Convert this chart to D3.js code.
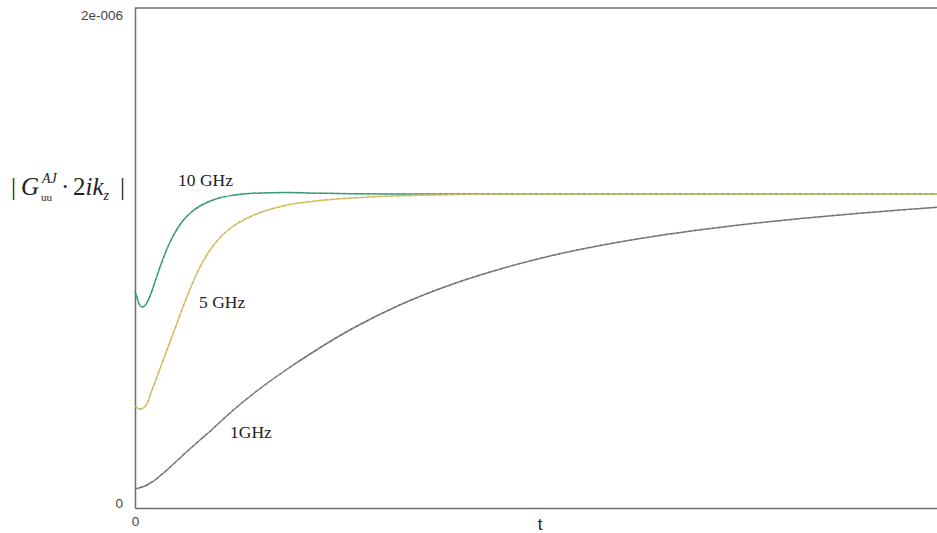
<!DOCTYPE html>
<html>
<head>
<meta charset="utf-8">
<script src="https://cdn.jsdelivr.net/npm/d3@7"></script>
<style>
  html, body { margin: 0; padding: 0; background: #fff; }
  svg { display: block; }
</style>
</head>
<body>
<svg id="visualization" width="937" height="533"></svg>
<script>
// sample times (arbitrary units, axis only labels 0)
const tValues = [0, 0.25, 0.5, 0.9, 1.25, 1.6, 1.9, 2.5, 3.1, 3.7, 4.4, 5.2, 6, 6.9, 8.1, 9.4, 10.6, 12.2, 14.7, 19, 23, 27, 33, 40, 46, 52, 58, 65, 71, 77, 83, 90, 95, 100];

// |G| * 2ikz, in units of 1e-6
const ghz10 = [0.864, 0.844, 0.816, 0.804, 0.810, 0.828, 0.850, 0.905, 0.962, 1.014, 1.066, 1.113, 1.150, 1.180, 1.208, 1.228, 1.241, 1.251, 1.259, 1.262, 1.259, 1.257, 1.256, 1.256, 1.256, 1.256, 1.256, 1.256, 1.256, 1.256, 1.256, 1.256, 1.256, 1.256];
const ghz5 = [0.408, 0.402, 0.396, 0.398, 0.406, 0.424, 0.452, 0.504, 0.556, 0.608, 0.668, 0.736, 0.806, 0.878, 0.964, 1.034, 1.082, 1.126, 1.170, 1.212, 1.230, 1.240, 1.249, 1.254, 1.256, 1.256, 1.256, 1.256, 1.256, 1.256, 1.256, 1.256, 1.256, 1.256];
const ghz1 = [0.076, 0.078, 0.080, 0.084, 0.088, 0.094, 0.100, 0.112, 0.128, 0.144, 0.164, 0.188, 0.212, 0.238, 0.272, 0.308, 0.344, 0.390, 0.456, 0.556, 0.640, 0.716, 0.812, 0.900, 0.960, 1.010, 1.050, 1.088, 1.115, 1.138, 1.158, 1.178, 1.191, 1.203];

const seriesNames = ["10 GHz", "5 GHz", "1GHz"];
const yTicks = [0, 2];
const yTickLabels = ["0", "2e-006"];
const xTicks = [0];
const xTickLabels = ["0"];

const colors = ["#3e9e7e", "#d4c266", "#7c7c7c"];
const dotColors = ["#237456", "#b09a3a", "#444444"];

const svg = d3.select("#visualization");

const margin = { top: 8, right: 0, bottom: 25, left: 135 };
const width = 937 - margin.left - margin.right;
const height = 533 - margin.top - margin.bottom;

const xScale = d3.scaleLinear().domain([0, 100]).range([0, width]);
const yScale = d3.scaleLinear().domain([0, 2]).range([height, 0]);

const chart = svg.append("g")
    .attr("transform", `translate(${margin.left}, ${margin.top})`);

// frame: top, left, bottom
chart.append("line")
    .attr("x1", 0).attr("x2", width)
    .attr("y1", 0).attr("y2", 0)
    .attr("stroke", "#6e6e6e").attr("stroke-width", 1.5);

const yAxis = chart.append("g")
    .call(d3.axisLeft(yScale).tickValues(yTicks).tickSize(0).tickPadding(12)
        .tickFormat((d, i) => yTickLabels[i]));
yAxis.select(".domain").attr("stroke", "#6e6e6e").attr("stroke-width", 1.5);
yAxis.selectAll("text")
    .attr("font-family", "Liberation Sans, Arial, sans-serif")
    .attr("font-size", 13.5).attr("fill", "#444");
yAxis.selectAll(".tick").filter(d => d === 2).select("text").attr("dy", "0.85em");
yAxis.selectAll(".tick").filter(d => d === 0).select("text").attr("dy", "-0.05em");

const xAxis = chart.append("g")
    .attr("transform", `translate(0, ${height})`)
    .call(d3.axisBottom(xScale).tickValues(xTicks).tickSize(0).tickPadding(8)
        .tickFormat((d, i) => xTickLabels[i]));
xAxis.select(".domain").attr("stroke", "#6e6e6e").attr("stroke-width", 1.5);
xAxis.selectAll("text")
    .attr("font-family", "Liberation Sans, Arial, sans-serif")
    .attr("font-size", 13.5).attr("fill", "#444");

// curves
const series = [ghz10, ghz5, ghz1].map((vals, k) => ({
    name: seriesNames[k],
    points: tValues.map((t, i) => ({ t: t, v: vals[i] }))
}));

const line = d3.line()
    .x(d => xScale(d.t))
    .y(d => yScale(d.v))
    .curve(d3.curveMonotoneX);

chart.selectAll(".curve")
    .data(series)
    .join("path")
    .attr("class", "curve")
    .attr("fill", "none")
    .attr("stroke", (d, i) => colors[i])
    .attr("stroke-width", 1.5)
    .attr("d", d => line(d.points));

chart.selectAll(".curve-dots")
    .data(series)
    .join("path")
    .attr("class", "curve-dots")
    .attr("fill", "none")
    .attr("stroke", (d, i) => dotColors[i])
    .attr("stroke-width", 1.5)
    .attr("stroke-dasharray", "1,5")
    .attr("opacity", 0.6)
    .attr("d", d => line(d.points));

// series labels
const labelPos = [[178, 186], [199, 308], [230, 438]];
svg.selectAll(".series-label")
    .data(seriesNames)
    .join("text")
    .attr("class", "series-label")
    .attr("x", (d, i) => labelPos[i][0])
    .attr("y", (d, i) => labelPos[i][1])
    .attr("font-family", "Liberation Serif, Times New Roman, serif")
    .attr("font-size", 17.5)
    .attr("fill", "#222")
    .text(d => d);

// axis titles
svg.append("text")
    .attr("x", 540).attr("y", 530)
    .attr("text-anchor", "middle")
    .attr("font-family", "Liberation Sans, Arial, sans-serif")
    .attr("font-size", 17).attr("fill", "#222")
    .text("t");

const yTitle = svg.append("text")
    .attr("font-family", "Liberation Serif, Times New Roman, serif")
    .attr("font-size", 25).attr("fill", "#222");
yTitle.append("tspan").attr("x", 11).attr("y", 195).text("|");
yTitle.append("tspan").attr("x", 21).attr("y", 195).attr("font-style", "italic").text("G");
yTitle.append("tspan").attr("x", 42).attr("y", 183).attr("font-style", "italic").attr("font-size", 14).text("AJ");
yTitle.append("tspan").attr("x", 41).attr("y", 201).attr("font-size", 11).text("uu");
yTitle.append("tspan").attr("x", 61).attr("y", 195).text("·");
yTitle.append("tspan").attr("x", 73).attr("y", 195).text("2");
yTitle.append("tspan").attr("font-style", "italic").text("ik");
yTitle.append("tspan").attr("y", 200).attr("font-style", "italic").attr("font-size", 14).text("z");
yTitle.append("tspan").attr("x", 120).attr("y", 195).text("|");
</script>
</body>
</html>
